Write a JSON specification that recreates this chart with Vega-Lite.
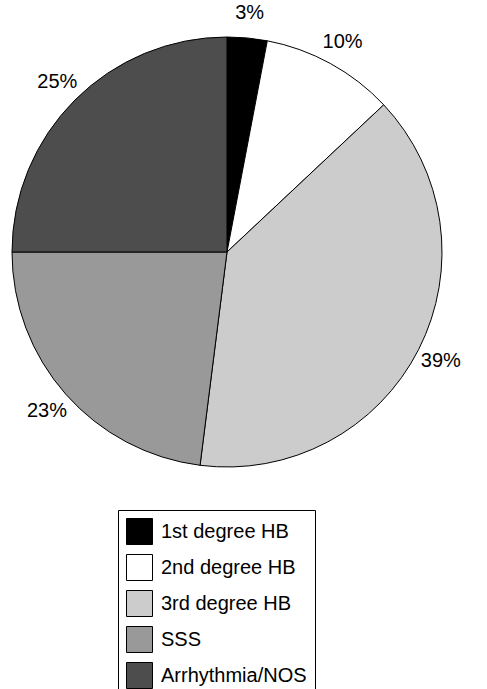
{
  "$schema": "https://vega.github.io/schema/vega-lite/v6.json",
  "width": 487,
  "height": 689,
  "autosize": "none",
  "padding": 0,
  "background": "white",
  "config": {"view": {"stroke": null}, "font": "Liberation Sans"},
  "data": {
    "values": [
      {"category": "1st degree HB", "pct": 3, "label": "3%", "ord": 1},
      {"category": "2nd degree HB", "pct": 10, "label": "10%", "ord": 2},
      {"category": "3rd degree HB", "pct": 39, "label": "39%", "ord": 3},
      {"category": "SSS", "pct": 23, "label": "23%", "ord": 4},
      {"category": "Arrhythmia/NOS", "pct": 25, "label": "25%", "ord": 5}
    ]
  },
  "encoding": {
    "theta": {"field": "pct", "type": "quantitative", "stack": true},
    "order": {"field": "ord", "type": "quantitative"}
  },
  "layer": [
    {
      "mark": {"type": "arc", "x": 227, "y": 252, "outerRadius": 215, "stroke": "black", "strokeWidth": 1},
      "encoding": {
        "color": {
          "field": "category",
          "type": "nominal",
          "sort": ["1st degree HB", "2nd degree HB", "3rd degree HB", "SSS", "Arrhythmia/NOS"],
          "scale": {
            "domain": ["1st degree HB", "2nd degree HB", "3rd degree HB", "SSS", "Arrhythmia/NOS"],
            "range": ["#000000", "#ffffff", "#cccccc", "#999999", "#4d4d4d"]
          },
          "legend": {
            "orient": "none",
            "legendX": 118,
            "legendY": 510,
            "title": null,
            "symbolType": "square",
            "symbolSize": 676,
            "symbolStrokeColor": "black",
            "symbolStrokeWidth": 1,
            "symbolOpacity": 1,
            "labelFontSize": 20,
            "labelFont": "Liberation Sans",
            "labelColor": "black",
            "labelOffset": 8,
            "rowPadding": 5,
            "padding": 8,
            "strokeColor": "black",
            "fillColor": "white",
            "labelLimit": 400,
            "labelExpr": "datum.label + '\u00a0\u00a0\u00a0\u00a0\u00a0\u00a0'"
          }
        }
      }
    },
    {
      "mark": {"type": "text", "x": 227, "y": 252, "radius": 240, "fontSize": 20, "font": "Liberation Sans", "fill": "black"},
      "encoding": {
        "text": {"field": "label", "type": "nominal"},
        "detail": {"field": "category"}
      }
    }
  ]
}
